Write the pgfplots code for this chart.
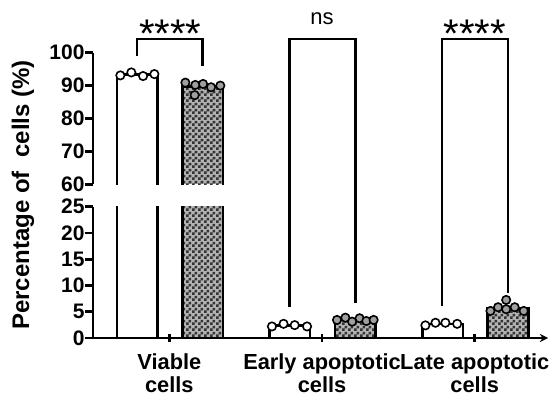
\documentclass[border=0pt]{standalone}
\usepackage{fontspec}
\setmainfont{Liberation Sans}
\usepackage{pgfplots}
\pgfplotsset{compat=1.18}
\usetikzlibrary{patterns}
\pgfdeclarepatternformonly{check3}{\pgfpointorigin}{\pgfqpoint{6pt}{6pt}}{\pgfqpoint{6pt}{6pt}}{%
 \pgfpathrectangle{\pgfpointorigin}{\pgfqpoint{3pt}{3pt}}%
 \pgfpathrectangle{\pgfqpoint{3pt}{3pt}}{\pgfqpoint{3pt}{3pt}}%
 \pgfusepath{fill}}

\pgfplotsset{
 brk/.style={scale only axis, width=455pt, xmin=-0.5, xmax=2.48, axis y line=left,
   axis line style={-, line width=2.6pt}, major tick style={line width=2.6pt, black},
   major tick length=8pt, tick align=outside,
   /pgf/number format/assume math mode=true,
   tick label style={font=\fontsize{21}{23}\selectfont\bfseries},
   yticklabel style={xshift=3pt},
 },
 wbar/.style={ybar, bar width=0.265, bar shift=0pt, draw=black, fill=white, line width=2.6pt},
 cbar/.style={ybar, bar width=0.265, bar shift=0pt, draw=black, line width=2.6pt,
   preaction={fill=gray!60}, preaction={pattern=check3, pattern color=black!80}},
 cfill/.style={ybar, bar width=0.265, bar shift=0pt, draw=none,
   preaction={fill=gray!60}, preaction={pattern=check3, pattern color=black!80}},
 outline/.style={line width=2.6pt, black, no marks, sharp plot},
 wdot/.style={only marks, mark=*, mark size=4.2pt, mark options={fill=white, draw=black, line width=1.6pt}},
 cdot/.style={only marks, mark=*, mark size=4.2pt, mark options={fill=gray!75, draw=black, line width=1.6pt}},
}

\begin{document}
\begin{tikzpicture}[x=1pt,y=1pt]
\path[use as bounding box] (0,0) rectangle (556,396);

% upper part of the broken axis (bars are open at the break)
\begin{axis}[brk, at={(93pt,211.7pt)}, anchor=south west, height=131.6pt,
  ymin=60, ymax=100, ytick={60,70,80,90,100}, axis x line=none]
\addplot[cfill] coordinates {(0.218,89.7)};
\addplot[outline] coordinates {(-0.3425,50) (-0.3425,93.4) (-0.0775,93.4) (-0.0775,50)};
\addplot[outline] coordinates {(0.0855,50) (0.0855,89.7) (0.3505,89.7) (0.3505,50)};
\addplot[wdot] coordinates {(-0.321,93.1) (-0.249,94.0) (-0.172,92.9) (-0.098,93.5)};
\addplot[cdot] coordinates {(0.105,90.9) (0.170,90.2) (0.221,90.5) (0.273,89.5) (0.334,90.0) (0.166,87.1)};
\end{axis}

% lower part of the broken axis
\begin{axis}[brk, at={(93pt,58pt)}, anchor=south west, height=131.3pt,
  ymin=0, ymax=25, ytick={0,5,10,15,20,25}, axis x line=bottom,
  xtick={0,1,2}, xticklabels={Viable\\cells, Early apoptotic\\cells, Late apoptotic\\cells},
  xticklabel style={align=center, inner sep=1pt, yshift=-11pt, font=\fontsize{21.8}{22.5}\selectfont\bfseries}]
\addplot[wbar] coordinates {(-0.21,93.4) (0.79,2.4) (1.79,2.7)};
\addplot[cbar] coordinates {(0.218,89.7) (1.218,3.5) (2.218,5.6)};
\addplot[wdot] coordinates {(0.672,2.2) (0.748,2.7) (0.821,2.45) (0.902,2.2)
  (1.677,2.4) (1.743,2.9) (1.808,2.9) (1.885,2.7)};
\addplot[cdot] coordinates {(1.098,3.44) (1.153,3.87) (1.197,3.11) (1.246,3.76) (1.290,3.24) (1.338,3.44)
  (2.103,5.15) (2.153,5.86) (2.206,5.48) (2.262,5.86) (2.321,5.15) (2.206,7.25)};
\end{axis}

% significance brackets
\begin{axis}[scale only axis, width=455pt, height=131.3pt, at={(93pt,58pt)}, anchor=south west,
  xmin=-0.5, xmax=2.48, ymin=0, ymax=25, hide axis, clip=false]
\addplot[outline] coordinates {(-0.213,53.7) (-0.213,56.9) (0.218,56.9) (0.218,51.8)};
\addplot[outline] coordinates {(0.787,5.97) (0.787,56.9) (1.218,56.9) (1.218,6.74)};
\addplot[outline] coordinates {(1.787,6.1) (1.787,56.9) (2.218,56.9) (2.218,8.6)};
\node[anchor=base, font=\fontsize{40}{40}\selectfont, inner sep=0pt] at (axis cs:0.007,55.4) {****};
\node[anchor=base, font=\fontsize{22}{22}\selectfont, inner sep=0pt] at (axis cs:1.0,59.7) {ns};
\node[anchor=base, font=\fontsize{40}{40}\selectfont, inner sep=0pt] at (axis cs:2.0,55.4) {****};
\end{axis}

\node[rotate=90, font=\fontsize{24}{24}\selectfont\bfseries] at (23pt,201pt) {Percentage of\ \ cells (\%)};
\end{tikzpicture}
\end{document}
